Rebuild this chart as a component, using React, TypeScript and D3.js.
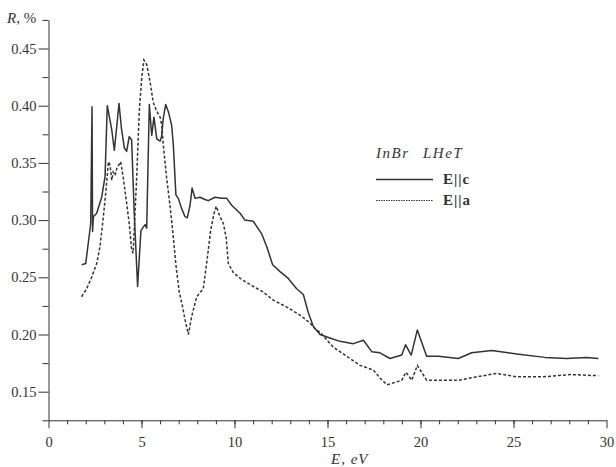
import React, { useRef, useEffect } from 'react';
import { select, scaleLinear, line, axisLeft, axisBottom, range, format } from 'd3';

// E||c (solid)
const energyC = [1.78, 2.0, 2.14, 2.27, 2.34, 2.37, 2.41, 2.59, 2.86, 3.04, 3.16, 3.40, 3.54, 3.67, 3.79, 3.93, 4.08, 4.20, 4.34, 4.47, 4.61, 4.79, 4.97, 5.19, 5.28, 5.42, 5.55, 5.67, 5.82, 6.0, 6.08, 6.17, 6.30, 6.44, 6.62, 6.71, 6.85, 6.98, 7.16, 7.34, 7.46, 7.61, 7.72, 7.88, 8.15, 8.41, 8.59, 8.95, 9.31, 9.58, 9.85, 10.3, 10.56, 11.01, 11.46, 11.73, 12.05, 12.45, 12.89, 13.34, 13.7, 13.97, 14.24, 14.6, 15.13, 15.67, 16.39, 16.93, 17.38, 17.82, 18.36, 18.99, 19.2, 19.5, 19.83, 20.33, 20.96, 22.03, 22.75, 23.83, 25.17, 26.69, 27.86, 28.93, 29.56];
const reflC = [0.261, 0.262, 0.280, 0.297, 0.399, 0.290, 0.303, 0.306, 0.320, 0.338, 0.400, 0.379, 0.361, 0.382, 0.402, 0.379, 0.363, 0.360, 0.373, 0.370, 0.306, 0.242, 0.291, 0.296, 0.293, 0.401, 0.374, 0.390, 0.371, 0.369, 0.373, 0.389, 0.401, 0.395, 0.383, 0.366, 0.322, 0.319, 0.310, 0.303, 0.302, 0.313, 0.328, 0.319, 0.320, 0.318, 0.317, 0.320, 0.319, 0.319, 0.313, 0.306, 0.300, 0.299, 0.288, 0.277, 0.261, 0.255, 0.249, 0.240, 0.235, 0.219, 0.207, 0.200, 0.197, 0.194, 0.192, 0.195, 0.185, 0.184, 0.179, 0.182, 0.191, 0.182, 0.204, 0.181, 0.181, 0.179, 0.184, 0.186, 0.183, 0.180, 0.179, 0.180, 0.179];

// E||a (dashed)
const energyA = [1.78, 2.05, 2.32, 2.59, 2.77, 2.95, 3.09, 3.22, 3.31, 3.40, 3.48, 3.58, 3.67, 3.88, 4.02, 4.2, 4.34, 4.47, 4.55, 4.74, 4.88, 5.01, 5.13, 5.28, 5.46, 5.63, 5.82, 6.0, 6.09, 6.17, 6.35, 6.53, 6.68, 6.85, 7.03, 7.20, 7.34, 7.52, 7.70, 7.97, 8.32, 8.5, 8.72, 8.9, 9.02, 9.22, 9.40, 9.55, 9.67, 9.94, 10.39, 11.01, 11.55, 12.09, 12.81, 13.52, 14.06, 14.33, 14.6, 15.31, 16.03, 16.75, 17.46, 17.82, 18.2, 18.6, 18.99, 19.22, 19.53, 19.83, 20.33, 22.03, 23.02, 24.1, 25.17, 26.6, 28.04, 29.56];
const reflA = [0.233, 0.240, 0.250, 0.262, 0.277, 0.303, 0.326, 0.351, 0.348, 0.335, 0.342, 0.339, 0.345, 0.351, 0.337, 0.315, 0.297, 0.274, 0.271, 0.337, 0.395, 0.424, 0.440, 0.436, 0.421, 0.403, 0.395, 0.390, 0.383, 0.366, 0.337, 0.313, 0.290, 0.261, 0.237, 0.225, 0.213, 0.200, 0.216, 0.233, 0.240, 0.262, 0.291, 0.306, 0.312, 0.303, 0.297, 0.285, 0.262, 0.254, 0.248, 0.242, 0.237, 0.230, 0.224, 0.217, 0.210, 0.205, 0.202, 0.189, 0.181, 0.173, 0.169, 0.162, 0.156, 0.158, 0.160, 0.167, 0.160, 0.173, 0.160, 0.160, 0.163, 0.166, 0.163, 0.163, 0.165, 0.164];

const xMajor = [0, 5, 10, 15, 20, 25, 30];
const yMajor = [0.15, 0.20, 0.25, 0.30, 0.35, 0.40, 0.45];

const W = 616;
const H = 467;
const ink = '#333';
const font = '"Liberation Serif", "DejaVu Serif", serif';

const App = () => {
    const ref = useRef(null);

    useEffect(() => {
        const svg = select(ref.current);
        svg.selectAll('*').remove();

        const x = scaleLinear().domain([0, 30]).range([48.5, 606.5]);
        const y = scaleLinear().domain([0.125, 0.475]).range([420.3, 19.9]);

        // y axis, minor then major ticks
        const yMinor = range(0.125, 0.48, 0.05);
        svg.append('g')
            .attr('transform', `translate(${x(0)},0)`)
            .call(axisLeft(y).tickValues(yMinor).tickSize(6).tickFormat(() => ''))
            .call(g => g.select('.domain').remove());
        const gy = svg.append('g')
            .attr('transform', `translate(${x(0)},0)`)
            .call(axisLeft(y).tickValues(yMajor).tickSize(10).tickSizeOuter(0).tickPadding(2).tickFormat(format('.2f')));

        // x axis
        svg.append('g')
            .attr('transform', `translate(0,${y(0.125)})`)
            .call(axisBottom(x).tickValues(range(1, 30)).tickSize(4).tickFormat(() => ''))
            .call(g => g.select('.domain').remove());
        const gx = svg.append('g')
            .attr('transform', `translate(0,${y(0.125)})`)
            .call(axisBottom(x).tickValues(xMajor).tickSize(8).tickSizeOuter(0).tickPadding(6));

        svg.selectAll('.domain, .tick line').attr('stroke', ink).attr('stroke-width', 1);
        [gx, gy].forEach(g => g.selectAll('text')
            .attr('fill', ink)
            .style('font-family', font)
            .style('font-size', '14.5px'));
        gx.selectAll('text').attr('dy', '0.9em');

        // curves
        const path = line().x(d => x(d[0])).y(d => y(d[1]));
        const dataC = energyC.map((e, i) => [e, reflC[i]]);
        const dataA = energyA.map((e, i) => [e, reflA[i]]);

        svg.append('path')
            .datum(dataC)
            .attr('d', path)
            .attr('fill', 'none')
            .attr('stroke', ink)
            .attr('stroke-width', 1.5)
            .attr('stroke-linejoin', 'round');

        svg.append('path')
            .datum(dataA)
            .attr('d', path)
            .attr('fill', 'none')
            .attr('stroke', ink)
            .attr('stroke-width', 1.5)
            .attr('stroke-dasharray', '3,2');

        // axis titles
        const rLabel = svg.append('text')
            .attr('x', 7).attr('y', 23)
            .attr('fill', ink)
            .style('font-family', font).style('font-size', '15px');
        rLabel.append('tspan').attr('font-style', 'italic').text('R');
        rLabel.append('tspan').text(', %');

        svg.append('text')
            .attr('x', 331).attr('y', 464)
            .attr('fill', ink)
            .attr('font-style', 'italic')
            .attr('letter-spacing', 1)
            .style('font-family', font).style('font-size', '15px')
            .text('E, eV');

        // legend
        const title = svg.append('g')
            .attr('fill', ink)
            .attr('font-style', 'italic')
            .attr('letter-spacing', 1.5)
            .style('font-family', font).style('font-size', '15px');
        title.append('text').attr('x', 376).attr('y', 158).text('InBr');
        title.append('text').attr('x', 423).attr('y', 158).text('LHeT');

        svg.append('line')
            .attr('x1', 376).attr('x2', 433).attr('y1', 179.5).attr('y2', 179.5)
            .attr('stroke', ink).attr('stroke-width', 1.3);
        svg.append('text')
            .attr('x', 443).attr('y', 184)
            .attr('fill', ink).attr('font-weight', 'bold')
            .attr('letter-spacing', 1)
            .style('font-family', font).style('font-size', '15px')
            .text('E||c');

        svg.append('line')
            .attr('x1', 376).attr('x2', 433).attr('y1', 200.5).attr('y2', 200.5)
            .attr('stroke', ink).attr('stroke-width', 1.1)
            .attr('stroke-dasharray', '1.5,1');
        svg.append('text')
            .attr('x', 443).attr('y', 205)
            .attr('fill', ink).attr('font-weight', 'bold')
            .attr('letter-spacing', 1)
            .style('font-family', font).style('font-size', '15px')
            .text('E||a');
    }, []);

    return (
        <svg ref={ref} width={W} height={H}
            style={{ position: 'absolute', left: 0, top: 0, background: '#fff' }}></svg>
    );
};

export default App;
